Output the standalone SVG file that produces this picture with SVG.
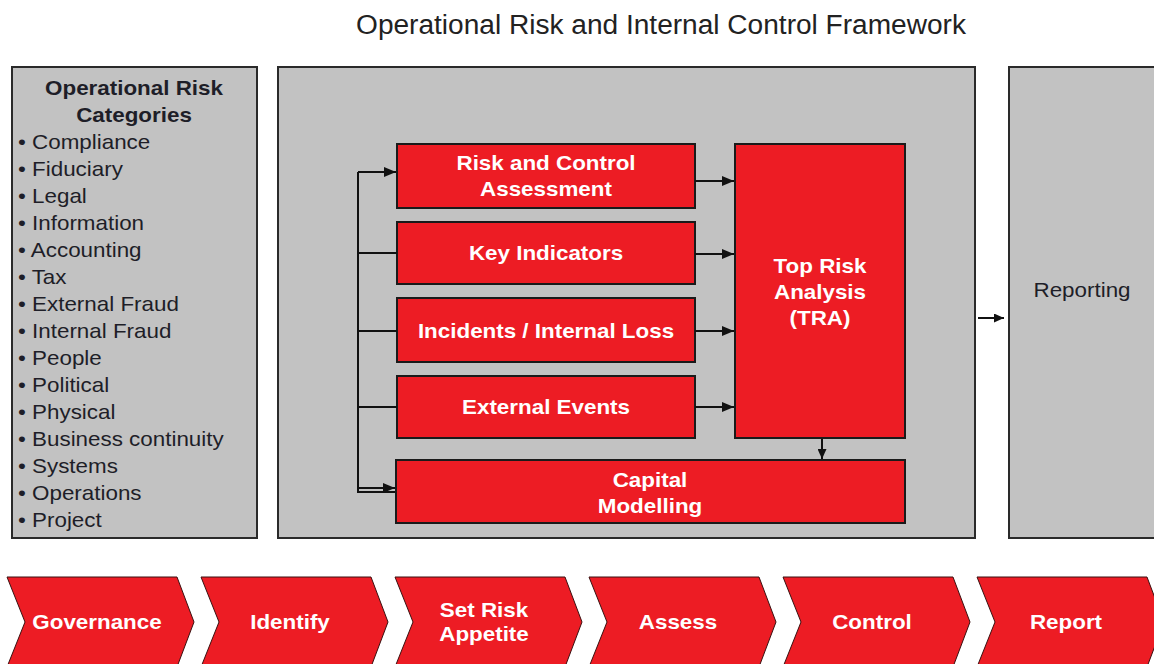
<svg xmlns="http://www.w3.org/2000/svg" width="1154" height="664" viewBox="0 0 1154 664">
  <defs>
    <marker id="ah" markerWidth="12" markerHeight="10" refX="12" refY="5" orient="auto" markerUnits="userSpaceOnUse">
      <path d="M0,0 L12,5 L0,10 z" fill="#111"/>
    </marker>
    <marker id="ahs" markerWidth="10" markerHeight="9" refX="10" refY="4.5" orient="auto" markerUnits="userSpaceOnUse">
      <path d="M0,0 L10,4.5 L0,9 z" fill="#111"/>
    </marker>
    <style>
      .panel { fill: #c2c2c2; stroke: #2a2a2a; stroke-width: 2; }
      .box { fill: #ed1c24; stroke: #1a1a1a; stroke-width: 2; }
      .chev { fill: #ed1c24; stroke: #3a1010; stroke-width: 1; }
      .wt { font-family: "Liberation Sans", Arial, sans-serif; font-weight: bold; font-size: 20px; fill: #ffffff; text-anchor: middle; }
      .dk { font-family: "Liberation Sans", Arial, sans-serif; font-size: 20px; fill: #1e1e28; }
      .dkb { font-family: "Liberation Sans", Arial, sans-serif; font-weight: bold; font-size: 20px; fill: #1e1e28; text-anchor: middle; }
      .title { font-family: "Liberation Sans", Arial, sans-serif; font-size: 27px; fill: #222222; text-anchor: middle; }
      .ln { fill: none; stroke: #111; stroke-width: 2; }
    </style>
  </defs>

  <rect width="1154" height="664" fill="#ffffff"/>

  <!-- Title -->
  <g id="title" transform="translate(661,34) scale(1.04,1)">
    <text class="title" x="0" y="0">Operational Risk and Internal Control Framework</text>
  </g>

  <!-- Left panel: risk categories -->
  <g id="categories">
    <rect class="panel" x="12" y="67" width="245" height="471"/>
    <g transform="translate(134,0) scale(1.12,1)">
      <text class="dkb" x="0" y="95">Operational Risk</text>
      <text class="dkb" x="0" y="122">Categories</text>
    </g>
    <g transform="translate(18,0) scale(1.12,1)">
      <text class="dk" x="0" y="149">• Compliance</text>
      <text class="dk" x="0" y="176">• Fiduciary</text>
      <text class="dk" x="0" y="203">• Legal</text>
      <text class="dk" x="0" y="230">• Information</text>
      <text class="dk" x="0" y="257">• Accounting</text>
      <text class="dk" x="0" y="284">• Tax</text>
      <text class="dk" x="0" y="311">• External Fraud</text>
      <text class="dk" x="0" y="338">• Internal Fraud</text>
      <text class="dk" x="0" y="365">• People</text>
      <text class="dk" x="0" y="392">• Political</text>
      <text class="dk" x="0" y="419">• Physical</text>
      <text class="dk" x="0" y="446">• Business continuity</text>
      <text class="dk" x="0" y="473">• Systems</text>
      <text class="dk" x="0" y="500">• Operations</text>
      <text class="dk" x="0" y="527">• Project</text>
    </g>
  </g>

  <!-- Middle panel -->
  <g id="framework">
    <rect class="panel" x="278" y="67" width="697" height="471"/>
  </g>

  <!-- Right panel -->
  <g id="reporting">
    <rect class="panel" x="1009" y="67" width="150" height="471"/>
    <g transform="translate(1082,297) scale(1.12,1)">
      <text class="dk" x="0" y="0" text-anchor="middle">Reporting</text>
    </g>
  </g>

  <!-- Red process boxes -->
  <g id="rca">
    <rect class="box" x="397" y="144" width="298" height="64"/>
    <g transform="translate(546,0) scale(1.12,1)">
      <text class="wt" x="0" y="170">Risk and Control</text>
      <text class="wt" x="0" y="196">Assessment</text>
    </g>
  </g>
  <g id="key-indicators">
    <rect class="box" x="397" y="222" width="298" height="62"/>
    <g transform="translate(546,0) scale(1.12,1)">
      <text class="wt" x="0" y="260">Key Indicators</text>
    </g>
  </g>
  <g id="incidents">
    <rect class="box" x="397" y="298" width="298" height="64"/>
    <g transform="translate(546,0) scale(1.12,1)">
      <text class="wt" x="0" y="338">Incidents / Internal Loss</text>
    </g>
  </g>
  <g id="external-events">
    <rect class="box" x="397" y="376" width="298" height="62"/>
    <g transform="translate(546,0) scale(1.12,1)">
      <text class="wt" x="0" y="414">External Events</text>
    </g>
  </g>
  <g id="tra">
    <rect class="box" x="735" y="144" width="170" height="294"/>
    <g transform="translate(820,0) scale(1.12,1)">
      <text class="wt" x="0" y="273">Top Risk</text>
      <text class="wt" x="0" y="299">Analysis</text>
      <text class="wt" x="0" y="325">(TRA)</text>
    </g>
  </g>
  <g id="capital">
    <rect class="box" x="396" y="460" width="509" height="63"/>
    <g transform="translate(650,0) scale(1.12,1)">
      <text class="wt" x="0" y="487">Capital</text>
      <text class="wt" x="0" y="513">Modelling</text>
    </g>
  </g>

  <!-- Connectors -->
  <g id="connectors">
    <path class="ln" d="M358,172 V492 H395"/>
    <path class="ln" d="M358,172 H396" marker-end="url(#ah)"/>
    <path class="ln" d="M358,253 H397"/>
    <path class="ln" d="M358,331 H397"/>
    <path class="ln" d="M358,407 H397"/>
    <path class="ln" d="M358,488 H395" marker-end="url(#ah)"/>
    <path class="ln" d="M695,181 H734" marker-end="url(#ah)"/>
    <path class="ln" d="M695,254 H734" marker-end="url(#ah)"/>
    <path class="ln" d="M695,331 H734" marker-end="url(#ah)"/>
    <path class="ln" d="M695,407 H734" marker-end="url(#ah)"/>
    <path class="ln" d="M822,439 V459" marker-end="url(#ahs)"/>
    <path class="ln" d="M978,318 H1004" marker-end="url(#ahs)" stroke-width="1.5"/>
  </g>

  <!-- Process chevrons -->
  <g id="step-governance">
    <path class="chev" d="M7,577 H177 L194,622 L177,667 H7 L25,622 Z"/>
    <g transform="translate(97,629) scale(1.12,1)"><text class="wt" x="0" y="0">Governance</text></g>
  </g>
  <g id="step-identify">
    <path class="chev" d="M201,577 H371 L388,622 L371,667 H201 L219,622 Z"/>
    <g transform="translate(290,629) scale(1.12,1)"><text class="wt" x="0" y="0">Identify</text></g>
  </g>
  <g id="step-appetite">
    <path class="chev" d="M395,577 H565 L582,622 L565,667 H395 L413,622 Z"/>
    <g transform="translate(484,0) scale(1.12,1)">
      <text class="wt" x="0" y="617">Set Risk</text>
      <text class="wt" x="0" y="641">Appetite</text>
    </g>
  </g>
  <g id="step-assess">
    <path class="chev" d="M589,577 H759 L776,622 L759,667 H589 L607,622 Z"/>
    <g transform="translate(678,629) scale(1.12,1)"><text class="wt" x="0" y="0">Assess</text></g>
  </g>
  <g id="step-control">
    <path class="chev" d="M783,577 H953 L970,622 L953,667 H783 L801,622 Z"/>
    <g transform="translate(872,629) scale(1.12,1)"><text class="wt" x="0" y="0">Control</text></g>
  </g>
  <g id="step-report">
    <path class="chev" d="M977,577 H1147 L1164,622 L1147,667 H977 L995,622 Z"/>
    <g transform="translate(1066,629) scale(1.12,1)"><text class="wt" x="0" y="0">Report</text></g>
  </g>
</svg>
